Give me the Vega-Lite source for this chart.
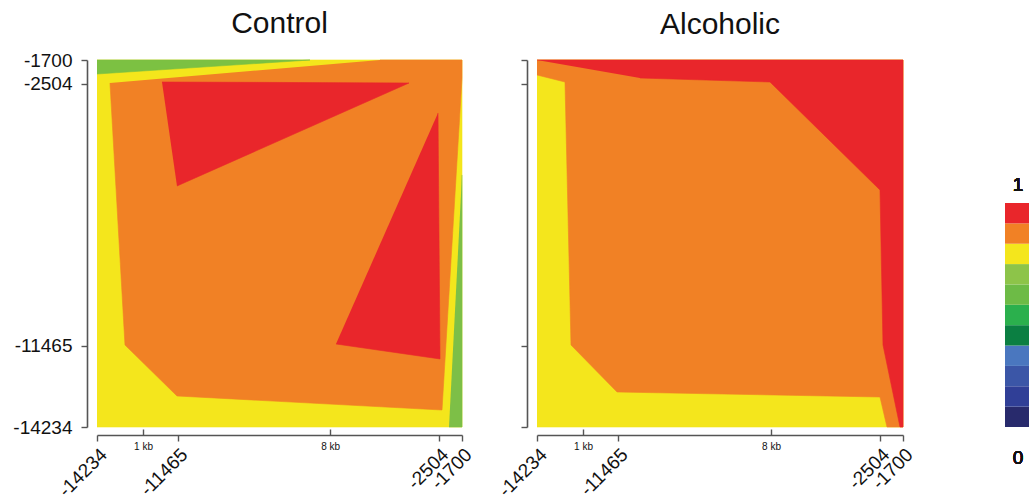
{
  "$schema": "https://vega.github.io/schema/vega-lite/v6.json",
  "padding": {"left": 12, "top": 9, "right": 0, "bottom": 0},
  "background": "white",
  "config": {
    "view": {"stroke": null},
    "font": "Liberation Sans",
    "axis": {
      "grid": false,
      "title": null,
      "labelFont": "Liberation Sans",
      "labelColor": "#111",
      "domainColor": "#555",
      "tickColor": "#555",
      "domainWidth": 1.6,
      "tickWidth": 1.4,
      "labelOverlap": false
    }
  },
  "datasets": {
    "poly": [
      {"panel": "Control", "poly": "p0", "i": 0, "x": -14234, "y": -1700, "c": "#f4e61c"},
      {"panel": "Control", "poly": "p0", "i": 1, "x": -1700, "y": -1700, "c": "#f4e61c"},
      {"panel": "Control", "poly": "p0", "i": 2, "x": -1700, "y": -14234, "c": "#f4e61c"},
      {"panel": "Control", "poly": "p0", "i": 3, "x": -14234, "y": -14234, "c": "#f4e61c"},
      {"panel": "Control", "poly": "p1", "i": 0, "x": -14234, "y": -1700, "c": "#7cc142"},
      {"panel": "Control", "poly": "p1", "i": 1, "x": -6920, "y": -1700, "c": "#7cc142"},
      {"panel": "Control", "poly": "p1", "i": 2, "x": -14234, "y": -2178, "c": "#7cc142"},
      {"panel": "Control", "poly": "p2", "i": 0, "x": -1700, "y": -5627, "c": "#7dbf47"},
      {"panel": "Control", "poly": "p2", "i": 1, "x": -1700, "y": -14234, "c": "#7dbf47"},
      {"panel": "Control", "poly": "p2", "i": 2, "x": -2146, "y": -14234, "c": "#7dbf47"},
      {"panel": "Control", "poly": "p3", "i": 0, "x": -4516, "y": -1700, "c": "#f18125"},
      {"panel": "Control", "poly": "p3", "i": 1, "x": -1700, "y": -1700, "c": "#f18125"},
      {"panel": "Control", "poly": "p3", "i": 2, "x": -1700, "y": -2315, "c": "#f18125"},
      {"panel": "Control", "poly": "p3", "i": 3, "x": -2387, "y": -13653, "c": "#f18125"},
      {"panel": "Control", "poly": "p3", "i": 4, "x": -11487, "y": -13175, "c": "#f18125"},
      {"panel": "Control", "poly": "p3", "i": 5, "x": -13273, "y": -11433, "c": "#f18125"},
      {"panel": "Control", "poly": "p3", "i": 6, "x": -13788, "y": -2485, "c": "#f18125"},
      {"panel": "Control", "poly": "p4", "i": 0, "x": -12002, "y": -2451, "c": "#e9262b"},
      {"panel": "Control", "poly": "p4", "i": 1, "x": -3520, "y": -2485, "c": "#e9262b"},
      {"panel": "Control", "poly": "p4", "i": 2, "x": -11487, "y": -6003, "c": "#e9262b"},
      {"panel": "Control", "poly": "p5", "i": 0, "x": -2524, "y": -3510, "c": "#e9262b"},
      {"panel": "Control", "poly": "p5", "i": 1, "x": -2455, "y": -11911, "c": "#e9262b"},
      {"panel": "Control", "poly": "p5", "i": 2, "x": -6027, "y": -11399, "c": "#e9262b"},
      {"panel": "Alcoholic", "poly": "p0", "i": 0, "x": -14234, "y": -1700, "c": "#f4e61c"},
      {"panel": "Alcoholic", "poly": "p0", "i": 1, "x": -1700, "y": -1700, "c": "#f4e61c"},
      {"panel": "Alcoholic", "poly": "p0", "i": 2, "x": -1700, "y": -14234, "c": "#f4e61c"},
      {"panel": "Alcoholic", "poly": "p0", "i": 3, "x": -14234, "y": -14234, "c": "#f4e61c"},
      {"panel": "Alcoholic", "poly": "p1", "i": 0, "x": -14234, "y": -1700, "c": "#f18125"},
      {"panel": "Alcoholic", "poly": "p1", "i": 1, "x": -1700, "y": -1700, "c": "#f18125"},
      {"panel": "Alcoholic", "poly": "p1", "i": 2, "x": -1700, "y": -14234, "c": "#f18125"},
      {"panel": "Alcoholic", "poly": "p1", "i": 3, "x": -2248, "y": -14234, "c": "#f18125"},
      {"panel": "Alcoholic", "poly": "p1", "i": 4, "x": -2488, "y": -13209, "c": "#f18125"},
      {"panel": "Alcoholic", "poly": "p1", "i": 5, "x": -11494, "y": -13038, "c": "#f18125"},
      {"panel": "Alcoholic", "poly": "p1", "i": 6, "x": -13070, "y": -11433, "c": "#f18125"},
      {"panel": "Alcoholic", "poly": "p1", "i": 7, "x": -13275, "y": -2451, "c": "#f18125"},
      {"panel": "Alcoholic", "poly": "p1", "i": 8, "x": -14234, "y": -2212, "c": "#f18125"},
      {"panel": "Alcoholic", "poly": "p2", "i": 0, "x": -14234, "y": -1700, "c": "#e9262b"},
      {"panel": "Alcoholic", "poly": "p2", "i": 1, "x": -1700, "y": -1700, "c": "#e9262b"},
      {"panel": "Alcoholic", "poly": "p2", "i": 2, "x": -1700, "y": -14234, "c": "#e9262b"},
      {"panel": "Alcoholic", "poly": "p2", "i": 3, "x": -1803, "y": -14234, "c": "#e9262b"},
      {"panel": "Alcoholic", "poly": "p2", "i": 4, "x": -2385, "y": -11433, "c": "#e9262b"},
      {"panel": "Alcoholic", "poly": "p2", "i": 5, "x": -2488, "y": -6140, "c": "#e9262b"},
      {"panel": "Alcoholic", "poly": "p2", "i": 6, "x": -6255, "y": -2451, "c": "#e9262b"},
      {"panel": "Alcoholic", "poly": "p2", "i": 7, "x": -10707, "y": -2315, "c": "#e9262b"}
    ],
    "legend": [
      {"lo": 0.0, "hi": 0.0909, "c": "#282a6c"},
      {"lo": 0.0909, "hi": 0.1818, "c": "#303f97"},
      {"lo": 0.1818, "hi": 0.2727, "c": "#3b56a7"},
      {"lo": 0.2727, "hi": 0.3636, "c": "#4a77bf"},
      {"lo": 0.3636, "hi": 0.4545, "c": "#0b7f42"},
      {"lo": 0.4545, "hi": 0.5455, "c": "#2bb04d"},
      {"lo": 0.5455, "hi": 0.6364, "c": "#6dbb46"},
      {"lo": 0.6364, "hi": 0.7273, "c": "#8dc449"},
      {"lo": 0.7273, "hi": 0.8182, "c": "#f4e61c"},
      {"lo": 0.8182, "hi": 0.9091, "c": "#f18125"},
      {"lo": 0.9091, "hi": 1.0, "c": "#e9262b"}
    ]
  },
  "bounds": "flush",
  "spacing": 75,
  "hconcat": [
    {
      "width": 365,
      "height": 367,
      "title": {"text": "Control", "fontSize": 30, "fontWeight": "normal", "font": "Liberation Sans", "color": "#111", "offset": 12},
      "data": {"name": "poly"},
      "transform": [{"filter": "datum.panel === 'Control'"}],
      "layer": [
        {
          "mark": {"type": "line", "strokeWidth": 0.6, "interpolate": "linear"},
          "encoding": {
            "x": {"field": "x", "type": "quantitative", "scale": {"domain": [-14234, -1700], "nice": false, "zero": false},
              "axis": {"values": [-14234, -11465, -2504, -1700], "labelExpr": "'' + datum.value", "labelAngle": -45, "labelFontSize": 19, "offset": 8, "tickSize": 6, "labelPadding": 4}},
            "y": {"field": "y", "type": "quantitative", "scale": {"domain": [-14234, -1700], "nice": false, "zero": false},
              "axis": {"values": [-1700, -2504, -11465, -14234], "labelExpr": "'' + datum.value", "labelFontSize": 19, "offset": 10, "tickSize": 6, "labelPadding": 9}},
            "detail": {"field": "poly"},
            "order": {"field": "i", "type": "quantitative"},
            "fill": {"field": "c", "type": "nominal", "scale": null},
            "stroke": {"field": "c", "type": "nominal", "scale": null}
          }
        },
        {
          "mark": {"type": "point", "opacity": 0},
          "encoding": {
            "x": {"field": "x", "type": "quantitative", "scale": {"domain": [-14234, -1700], "nice": false, "zero": false},
              "axis": {"orient": "bottom", "values": [-12654, -6230], "labelExpr": "datum.value < -10000 ? '1 kb' : '8 kb'", "labelFontSize": 10, "labelAngle": 0, "domain": false, "offset": 8, "tickSize": -6, "labelPadding": 12}}
          }
        }
      ],
      "resolve": {"axis": {"x": "independent"}}
    },
    {
      "width": 366,
      "height": 367,
      "title": {"text": "Alcoholic", "fontSize": 30, "fontWeight": "normal", "font": "Liberation Sans", "color": "#111", "offset": 19},
      "data": {"name": "poly"},
      "transform": [{"filter": "datum.panel === 'Alcoholic'"}],
      "layer": [
        {
          "mark": {"type": "line", "strokeWidth": 0.6, "interpolate": "linear"},
          "encoding": {
            "x": {"field": "x", "type": "quantitative", "scale": {"domain": [-14234, -1700], "nice": false, "zero": false},
              "axis": {"values": [-14234, -11465, -2504, -1700], "labelExpr": "'' + datum.value", "labelAngle": -45, "labelFontSize": 19, "offset": 8, "tickSize": 6, "labelPadding": 4}},
            "y": {"field": "y", "type": "quantitative", "scale": {"domain": [-14234, -1700], "nice": false, "zero": false},
              "axis": {"values": [-1700, -2504, -11465, -14234], "labels": false, "offset": 10, "tickSize": 6}},
            "detail": {"field": "poly"},
            "order": {"field": "i", "type": "quantitative"},
            "fill": {"field": "c", "type": "nominal", "scale": null},
            "stroke": {"field": "c", "type": "nominal", "scale": null}
          }
        },
        {
          "mark": {"type": "point", "opacity": 0},
          "encoding": {
            "x": {"field": "x", "type": "quantitative", "scale": {"domain": [-14234, -1700], "nice": false, "zero": false},
              "axis": {"orient": "bottom", "values": [-12659, -6220], "labelExpr": "datum.value < -10000 ? '1 kb' : '8 kb'", "labelFontSize": 10, "labelAngle": 0, "domain": false, "offset": 8, "tickSize": -6, "labelPadding": 12}}
          }
        }
      ],
      "resolve": {"axis": {"x": "independent"}}
    },
    {
      "width": 53,
      "height": 367,
      "data": {"name": "legend"},
      "layer": [
        {
          "mark": {"type": "rect"},
          "encoding": {
            "x": {"datum": 27, "type": "quantitative", "scale": {"domain": [0, 53], "nice": false, "zero": false}, "axis": null},
            "x2": {"datum": 53},
            "y": {"field": "lo", "type": "quantitative", "scale": {"domain": [0, 1.6384], "nice": false, "zero": false}, "axis": null},
            "y2": {"field": "hi"},
            "fill": {"field": "c", "type": "nominal", "scale": null}
          }
        },
        {
          "mark": {"type": "text", "fontSize": 19, "fontWeight": "normal", "font": "Liberation Sans", "color": "#111"},
          "encoding": {
            "x": {"datum": 40, "type": "quantitative"},
            "y": {"datum": 1.08, "type": "quantitative"},
            "text": {"value": "1"}
          }
        },
        {
          "mark": {"type": "text", "fontSize": 19, "fontWeight": "normal", "font": "Liberation Sans", "color": "#111"},
          "encoding": {
            "x": {"datum": 40, "type": "quantitative"},
            "y": {"datum": -0.14, "type": "quantitative"},
            "text": {"value": "0"}
          }
        }
      ]
    }
  ]
}
